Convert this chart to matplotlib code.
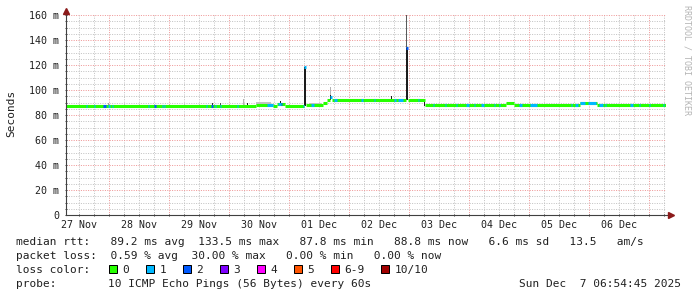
"""Smokeping style latency graph: 10 day median RTT with loss colouring."""

import datetime as dt

import matplotlib
matplotlib.use("Agg")
import matplotlib.dates as mdates
import matplotlib.pyplot as plt
import numpy as np
from matplotlib import transforms
from matplotlib.patches import Rectangle
from matplotlib.ticker import FuncFormatter, MultipleLocator, NullFormatter

W, H = 697, 297
MONO = "DejaVu Sans Mono"

END_TIME = dt.datetime(2025, 12, 7, 6, 54, 45)
START_TIME = END_TIME - dt.timedelta(days=10)
WINDOW_HOURS = 240.0

# median rtt in ms as steps: hour into the window where a level starts
median_start_h = [0.0, 75.8, 82.6, 84.2, 87.4, 95.2, 96.0, 102.6, 104.2, 105.6,
                  106.4, 136.0, 136.8, 143.5, 175.8, 179.0, 205.4, 212.2]
median_ms = [87.4, 88.3, 87.4, 88.8, 87.4, 118.4, 88.0, 89.6, 91.8, 94.5,
             91.7, 133.5, 91.7, 88.4, 89.6, 88.4, 89.5, 88.4]
median_loss = [0, 0, 0, 0, 0, 1, 0, 0, 0, 1, 0, 2, 0, 0, 0, 0, 0, 0]

# short stretches with lost pings (start hour, length in hours, pings lost)
loss_start_h = [7.8, 11.0, 14.7, 16.6, 18.4, 32.6, 35.2, 38.4, 39.2, 56.0,
                57.8, 59.4, 61.4, 68.4, 80.2, 84.8, 85.8, 94.8, 97.8, 107.0,
                117.8, 123.0, 131.0, 132.9, 140.6, 146.6, 151.6, 156.0, 160.0,
                163.0, 166.0, 171.0, 173.0, 181.0, 185.6, 202.0, 203.4, 205.4,
                208.6, 213.0, 215.4, 225.4, 229.0, 233.0, 238.8]
loss_len_h = [0.4, 0.4, 1.2, 0.8, 0.4, 0.4, 0.6, 0.4, 0.4, 0.4,
              0.8, 0.4, 0.4, 0.4, 2.4, 1.0, 0.4, 0.4, 1.2, 1.2,
              0.8, 0.4, 0.8, 2.0, 0.6, 0.4, 0.4, 0.4, 1.2,
              0.4, 1.2, 0.4, 0.4, 1.2, 2.8, 0.4, 1.2, 2.0,
              3.2, 1.6, 0.4, 1.2, 0.4, 0.4, 0.4]
loss_count = [1, 1, 2, 1, 1, 1, 2, 1, 1, 1,
              2, 1, 1, 1, 1, 1, 2, 1, 1, 1,
              1, 1, 1, 1, 1, 1, 1, 1, 1,
              1, 1, 1, 1, 1, 1, 1, 1, 1,
              1, 1, 1, 1, 1, 1, 1]

# smoke (spread of the single pings): hour, width, low ms, high ms, shade
smoke_h = [136.0, 135.8, 95.0, 129.8, 105.4, 105.6, 72.2, 70.8, 85.4, 61.6,
           16.8, 75.8, 97.0, 143.3, 231.0, 199.8, 58.4]
smoke_w_h = [0.4, 1.0, 1.1, 0.8, 0.8, 0.4, 0.6, 0.4, 0.8, 0.4,
             0.4, 6.4, 5.0, 0.5, 0.4, 0.4, 0.5]
smoke_lo = [133.5, 91.7, 87.4, 91.7, 91.7, 96.0, 87.4, 87.4, 88.8, 87.4,
            87.4, 88.3, 88.0, 87.4, 88.4, 88.4, 87.4]
smoke_hi = [162.0, 133.5, 118.4, 95.2, 96.0, 102.6, 90.0, 92.5, 91.2, 89.6,
            89.6, 90.6, 89.8, 91.7, 91.2, 89.8, 89.5]
smoke_shade = ["#5a5a5a", "#1c1c1c", "#1c1c1c", "#1c1c1c", "#1c1c1c", "#b4b4b4",
               "#1c1c1c", "#b4b4b4", "#1c1c1c", "#505050", "#a0a0a0", "#c4c4c4",
               "#c4c4c4", "#1c1c1c", "#b4b4b4", "#c4c4c4", "#303030"]

loss_colors = {0: "#26ff00", 1: "#00b8ff", 2: "#0059ff", 3: "#7e00ff",
               4: "#ff00ff", 5: "#ff5500", 6: "#ff0000", 10: "#a10000"}
legend_labels = ["0", "1", "2", "3", "4", "5", "6-9", "10/10"]
legend_keys = [0, 1, 2, 3, 4, 5, 6, 10]

rtt_line = "median rtt:   89.2 ms avg  133.5 ms max   87.8 ms min   88.8 ms now   6.6 ms sd   13.5   am/s"
loss_line = "packet loss:  0.59 % avg  30.00 % max   0.00 % min   0.00 % now"
probe_text = "10 ICMP Echo Pings (56 Bytes) every 60s"
stamp_text = "Sun Dec  7 06:54:45 2025"


def fx(x):
    return x / W


def fy(y):
    return 1 - y / H


def hours_to_num(h):
    return mdates.date2num(START_TIME) + np.asarray(h, dtype=float) / 24.0


fig = plt.figure(figsize=(W / 100, H / 100), dpi=100)
fig.patch.set_facecolor("white")
ax = fig.add_axes([fx(66), fy(215), 600 / W, 200 / H])
ax.set_facecolor("white")

ax.set_xlim(mdates.date2num(START_TIME), mdates.date2num(END_TIME))
ax.set_ylim(0, 160)

# grid
ax.xaxis.set_major_locator(mdates.DayLocator())
ax.xaxis.set_minor_locator(mdates.HourLocator(byhour=[0, 6, 12, 18]))
ax.xaxis.set_major_formatter(NullFormatter())
ax.yaxis.set_major_locator(MultipleLocator(20))
ax.yaxis.set_minor_locator(MultipleLocator(5))
ax.yaxis.set_major_formatter(FuncFormatter(lambda v, p: "0" if v == 0 else f"{v:.0f} m"))
ax.grid(which="minor", color="#c4c4c4", linestyle=(0, (1, 1.4)), linewidth=0.72)
ax.grid(which="major", color="#ef9898", linestyle=(0, (1, 1.4)), linewidth=0.72)
ax.set_axisbelow(True)
for side in ax.spines.values():
    side.set_visible(False)
ax.tick_params(which="both", direction="inout", length=2, width=0.7, color="#404040")
ax.tick_params(axis="y", which="major", pad=4, labelsize=7.2, labelcolor="#202020")
for lbl in ax.get_yticklabels():
    lbl.set_family(MONO)

# smoke
smoke_left = hours_to_num(smoke_h)
ax.bar(smoke_left, np.subtract(smoke_hi, smoke_lo), bottom=smoke_lo,
       width=np.asarray(smoke_w_h) / 24.0, align="edge", color=smoke_shade,
       linewidth=0, zorder=2)

# median coloured by loss
seg_end_h = median_start_h[1:] + [WINDOW_HOURS]
ax.hlines(median_ms, hours_to_num(median_start_h), hours_to_num(seg_end_h),
          colors=[loss_colors[n] for n in median_loss], linewidth=2.2, zorder=3)

idx = np.searchsorted(median_start_h, loss_start_h, side="right") - 1
loss_level = np.asarray(median_ms)[idx]
ax.hlines(loss_level, hours_to_num(loss_start_h),
          hours_to_num(np.add(loss_start_h, loss_len_h)),
          colors=[loss_colors[n] for n in loss_count], linewidth=2.2, zorder=4)

# axes with arrows
axis_col = "#404040"
ax.plot([0, 0], [0, 1.02], transform=ax.transAxes, clip_on=False,
        color=axis_col, linewidth=0.8, zorder=5)
ax.plot([0, 1.008], [0, 0], transform=ax.transAxes, clip_on=False,
        color=axis_col, linewidth=0.8, zorder=5)
ax.plot([0], [1.0225], marker="^", markersize=4.3, color="#8b1a1a",
        transform=ax.transAxes, clip_on=False, zorder=6)
ax.plot([1.0075], [0], marker=">", markersize=4.3, color="#8b1a1a",
        transform=ax.transAxes, clip_on=False, zorder=6)

# day labels at noon
label_tf = transforms.blended_transform_factory(ax.transData, ax.transAxes)
day = dt.datetime(START_TIME.year, START_TIME.month, START_TIME.day, 12)
while day < END_TIME:
    if day > START_TIME:
        ax.text(mdates.date2num(day), -(228.3 - 215) / 200, day.strftime("%d %b"),
                transform=label_tf, ha="center", va="baseline",
                family=MONO, fontsize=7.2, color="#202020")
    day += dt.timedelta(days=1)

fig.text(fx(11), fy(113), "Seconds", rotation=90, ha="center", va="center",
         family=MONO, fontsize=8, color="#202020")
fig.text(fx(687), fy(5), "RRDTOOL / TOBI OETIKER", rotation=270, ha="center",
         va="top", family=MONO, fontsize=6, color="#b4b4b4")

# legend
text_kw = dict(family=MONO, fontsize=8, color="#202020", va="baseline")
fig.text(fx(16), fy(244.8), rtt_line, ha="left", **text_kw)
fig.text(fx(16), fy(258.8), loss_line, ha="left", **text_kw)
fig.text(fx(16), fy(272.8), "loss color:", ha="left", **text_kw)
box_x = [108.5, 145.5, 182.5, 219.5, 256.5, 293.5, 330.5, 381.0]
for bx, key, name in zip(box_x, legend_keys, legend_labels):
    fig.add_artist(Rectangle((fx(bx), fy(273)), 8 / W, 8 / H,
                             transform=fig.transFigure, facecolor=loss_colors[key],
                             edgecolor="black", linewidth=0.72))
    fig.text(fx(bx + 14), fy(272.8), name, ha="left", **text_kw)
fig.text(fx(16), fy(286.8), "probe:", ha="left", **text_kw)
fig.text(fx(108.5), fy(286.8), probe_text, ha="left", **text_kw)
fig.text(fx(681), fy(286.8), stamp_text, ha="right", **text_kw)

fig.savefig("out.png", dpi=100)
plt.close(fig)
